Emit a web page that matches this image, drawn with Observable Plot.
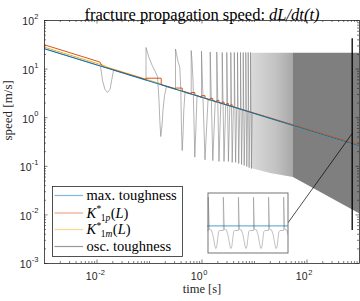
<!DOCTYPE html>
<html><head><meta charset="utf-8">
<script src="https://cdn.jsdelivr.net/npm/d3@7"></script>
<script src="https://cdn.jsdelivr.net/npm/@observablehq/plot@0.6"></script>
<style>
html,body{margin:0;padding:0;background:#fff;}
#wrap{position:relative;width:360px;height:301px;overflow:hidden;background:#fff;}
#wrap svg{position:absolute;overflow:visible;}
</style></head><body><div id="wrap"></div>
<script>
// ---------------- data ----------------
const titleParts = ["fracture propagation speed: ", "dL/dt(t)"];
const xLabel = "time [s]";
const yLabel = "speed [m/s]";
const legendLabels = ["max. toughness", "K^*_{1p}(L)", "K^*_{1m}(L)", "osc. toughness"];
const legendColors = ["#0072BD", "#D95319", "#EDB120", "#7f7f7f"];

const xLabelTicks = [1e-2, 1, 1e2];
const xLabelExp = ["-2", "0", "2"];
const yLabelTicks = [1e-3, 1e-2, 1e-1, 1, 10, 100];
const yLabelExp = ["-3", "-2", "-1", "0", "1", "2"];
const decades = [1e-3, 1e-2, 1e-1, 1, 10, 100];
const mantissas = [2, 3, 4, 5, 6, 7, 8, 9];
const xExtraMinor = [1e-1, 10];

// max. toughness
const blueT = [1e-3, 1e3];
const blueV = [26.2, 0.262];

// K*_1p(L)
const orangeT = [0.001, 0.01131, 0.01273, 0.0858, 0.0858, 0.1671, 0.1671, 0.3128, 0.3128, 0.4196, 0.4196,
  0.6225, 0.6225, 0.7292, 0.7292, 0.978, 0.978, 1.140, 1.140, 1.433, 1.433, 1.606, 1.606, 1.913, 1.913,
  2.106, 2.106, 2.426, 2.426, 2.625, 2.625, 2.968, 2.968, 3.185, 3.185, 3.538, 3.538, 3.761, 3.761, 1000];
const orangeV = [31.6, 14.0, 11.3, 6.1, 6.5, 6.5, 4.82, 3.95, 4.07, 4.07, 3.55, 3.12, 3.30, 3.30, 2.95,
  2.66, 2.84, 2.84, 2.53, 2.33, 2.50, 2.50, 2.26, 2.12, 2.27, 2.27, 2.06, 1.96, 2.10, 2.10, 1.92,
  1.83, 1.96, 1.96, 1.80, 1.73, 1.85, 1.85, 1.71, 0.275];

// K*_1m(L)
const yellowT = [0.001, 0.01389, 0.01585, 0.1621, 0.19, 1000];
const yellowV = [28.2, 11.73, 10.9, 5.0, 4.55, 0.262];

// osc. toughness: first (resolved) cycles, vertex by vertex
const greyT0 = [0.001, 0.01166, 0.01273, 0.01420, 0.01585, 0.01768, 0.01931, 0.02062,
  0.0858, 0.0858, 0.0970, 0.1125, 0.1301, 0.1421, 0.1517, 0.1571, 0.1641, 0.1730, 0.1807, 0.1931, 0.2108,
  0.3128, 0.3128, 0.3268, 0.3459, 0.3777, 0.3947, 0.4070, 0.4196, 0.4345, 0.4499, 0.4745,
  0.6225, 0.6225, 0.6447, 0.6739, 0.7292, 0.7620, 0.8032];
const greyV0 = [26.2, 11.5, 5.83, 3.80, 3.30, 3.80, 6.41, 9.53,
  5.92, 27.8, 17.6, 11.9, 8.63, 7.04, 2.26, 0.876, 0.41, 0.691, 1.406, 2.86, 4.39,
  3.84, 25.9, 20.6, 15.0, 10.8, 3.63, 0.545, 0.211, 0.430, 1.406, 3.30,
  3.05, 24.1, 15.0, 5.83, 0.154, 0.545, 2.81];
// osc. toughness: following cycles (spike, dip, recovery)
const spikeT = [0.978, 1.433, 1.913, 2.426, 2.968, 3.538, 4.123, 4.746, 5.412, 6.093, 6.829, 7.586, 8.390];
const baseV  = [2.63, 2.31, 2.10, 1.94, 1.81, 1.71, 1.63, 1.55, 1.48, 1.43, 1.37, 1.33, 1.28, 1.25];
const peakV  = [23.4, 22.5, 22.5, 22, 22, 22, 22, 22, 22, 22, 22, 22, 22];
const dipT   = [1.140, 1.606, 2.106, 2.625, 3.185, 3.761, 4.366, 5.002, 5.677, 6.367, 7.136, 7.889, 8.726];
const dipV   = [0.136, 0.131, 0.126, 0.126, 0.126, 0.120, 0.120, 0.114, 0.109, 0.104, 0.099, 0.094, 0.090];
const recT   = [1.301, 1.784, 2.280, 2.829, 3.387, 3.966, 4.581, 5.240, 5.910, 6.635, 7.389, 8.170, 9.036];
// unresolved fast oscillation: envelope bands
const lightT = [8.77, 20.2, 55.3];
const lightLo = [0.090, 0.071, 0.059];
const lightHi = [21.2, 21.2, 21.2];
const darkT = [55.3, 1000];
const darkLo = [0.059, 0.0105];
const darkHi = [21.2, 21.2];

// zoom marker + connector
const markT = [726], markLo = [0.0048], markHi = [42];
const linkFrom = {t: 726, v: 0.473}, linkTo = {t: 43.1, v: 0.0068};

// inset (zoomed window, time in oscillation periods)
const insetDomainT = [0, 5.37];
const insetDomainV = [0.0048, 42];
const insetSpikes = [0.05, 1.05, 2.05, 3.05, 4.05, 5.05];
const cyclePhase = [0, 0, 0.07, 0.2, 0.3, 0.38, 0.45, 0.5, 0.56, 0.62, 0.68, 0.75];
const cycleV = [0.147, 20.9, 0.171, 0.16, 0.08, 0.03, 0.013, 0.0101, 0.013, 0.04, 0.12, 0.147];
const insetBlueV = 0.29;

// ---------------- build ----------------
const W = 360, H = 301;
const M = {top: 20, right: 1, bottom: 38, left: 44};
const fh = H - M.top - M.bottom, fw = W - M.left - M.right;
const axisColor = "#262626";
const serifName = "Liberation Serif", sansName = "Liberation Sans";
const serif = "'Liberation Serif','Times New Roman',serif";
const sans = "'Liberation Sans',Arial,sans-serif";
const rows = (ts, vs) => ts.map((t, i) => ({t, v: vs[i]}));

const ctx = document.createElement("canvas").getContext("2d");
function tw(s, size, family, italic) {
  ctx.font = (italic ? "italic " : "") + size + "px '" + family + "'";
  return ctx.measureText(s).width;
}

const grey = rows(greyT0, greyV0);
spikeT.forEach((t, i) => {
  grey.push({t, v: baseV[i]}, {t, v: peakV[i]}, {t: dipT[i], v: dipV[i]}, {t: recT[i], v: baseV[i + 1]});
});
const band = (ts, lo, hi) => ts.map((t, i) => ({t, lo: lo[i], hi: hi[i]}));

const minor = decades.flatMap(d => mantissas.map(m => m * d));
const xMinor = minor.concat(xExtraMinor);
const yMinor = minor.filter(v => v < 100);
const tickMaj = 3.5, tickMin = 2;
const tk = {stroke: axisColor, strokeWidth: 0.6};

const labelSize = 10.5, expSize = 7.5;
const titleSize = 16.5;
const tW0 = tw(titleParts[0], titleSize, serifName, false);
const tW1 = tw(titleParts[1], titleSize, serifName, true);
const tStart = -(tW0 + tW1) / 2;

const yTickBase = yLabelTicks.map((v, i) => Plot.text([v], {
  y: d => d, frameAnchor: "left", dx: -6.3 - tw(yLabelExp[i], expSize, sansName, false), dy: 1.5,
  textAnchor: "end", text: () => "10", fontFamily: sans, fontSize: labelSize, fill: axisColor}));

const chart = Plot.plot({
  width: W, height: H,
  marginTop: M.top, marginRight: M.right, marginBottom: M.bottom, marginLeft: M.left,
  x: {type: "log", domain: [1e-3, 1e3], axis: null},
  y: {type: "log", domain: [1e-3, 1e2], axis: null},
  style: {background: "#fff"},
  marks: [
    Plot.areaY(band(lightT, lightLo, lightHi), {x: "t", y1: "lo", y2: "hi", fill: "url(#lightband)"}),
    Plot.areaY(band(darkT, darkLo, darkHi), {x: "t", y1: "lo", y2: "hi", fill: "#7f7f7f"}),
    Plot.line(grey, {x: "t", y: "v", stroke: "#7f7f7f", strokeWidth: 0.6, clip: true}),
    Plot.line(rows(yellowT, yellowV), {x: "t", y: "v", stroke: legendColors[2], strokeWidth: 1, clip: true}),
    Plot.line(rows(orangeT, orangeV), {x: "t", y: "v", stroke: legendColors[1], strokeWidth: 1, clip: true}),
    Plot.line(rows(blueT, blueV), {x: "t", y: "v", stroke: legendColors[0], strokeWidth: 1, clip: true}),
    Plot.ruleX(markT, {x: d => d, y1: () => markLo[0], y2: () => markHi[0], stroke: "#000", strokeWidth: 1.3}),
    Plot.link([0], {x1: () => linkFrom.t, y1: () => linkFrom.v, x2: () => linkTo.t, y2: () => linkTo.v, stroke: "#000", strokeWidth: 0.7}),
    // ticks (inward, all four sides)
    Plot.ruleX(xLabelTicks, {x: d => d, insetTop: fh - tickMaj, ...tk}),
    Plot.ruleX(xLabelTicks, {x: d => d, insetBottom: fh - tickMaj, ...tk}),
    Plot.ruleX(xMinor, {x: d => d, insetTop: fh - tickMin, ...tk}),
    Plot.ruleX(xMinor, {x: d => d, insetBottom: fh - tickMin, ...tk}),
    Plot.ruleY(yLabelTicks, {y: d => d, insetRight: fw - tickMaj, ...tk}),
    Plot.ruleY(yLabelTicks, {y: d => d, insetLeft: fw - tickMaj, ...tk}),
    Plot.ruleY(yMinor, {y: d => d, insetRight: fw - tickMin, ...tk}),
    Plot.ruleY(yMinor, {y: d => d, insetLeft: fw - tickMin, ...tk}),
    Plot.frame({stroke: axisColor, strokeWidth: 0.8}),
    // tick labels: base "10" and exponent as separate texts
    Plot.text(xLabelTicks, {x: d => d, frameAnchor: "bottom", dy: 16.8, dx: 0.5, textAnchor: "end",
      text: () => "10", fontFamily: sans, fontSize: labelSize, fill: axisColor}),
    Plot.text(xLabelTicks, {x: d => d, frameAnchor: "bottom", dy: 11.5, dx: 1.2, textAnchor: "start",
      text: (d, i) => xLabelExp[i], fontFamily: sans, fontSize: expSize, fill: axisColor}),
    ...yTickBase,
    Plot.text(yLabelTicks, {y: d => d, frameAnchor: "left", dx: -6, dy: -4, textAnchor: "end",
      text: (d, i) => yLabelExp[i], fontFamily: sans, fontSize: expSize, fill: axisColor}),
    // axis labels and title
    Plot.text([xLabel], {frameAnchor: "bottom", dy: 29.5, text: d => d, fontFamily: serif, fontSize: 12.5, fill: axisColor}),
    Plot.text([yLabel], {frameAnchor: "left", dx: -36.5, dy: -1.5, rotate: -90, text: d => d, fontFamily: serif, fontSize: 13, fill: axisColor}),
    Plot.text([titleParts[0]], {frameAnchor: "top", dy: -12, dx: tStart, textAnchor: "start", text: d => d, fontFamily: serif, fontSize: titleSize, fill: "#000"}),
    Plot.text([titleParts[1]], {frameAnchor: "top", dy: -12, dx: tStart + tW0, textAnchor: "start", text: d => d, fontFamily: serif, fontStyle: "italic", fontSize: titleSize, fill: "#000"})
  ]
});
const wrap = document.getElementById("wrap");
chart.style.left = "0px"; chart.style.top = "0px";
wrap.appendChild(chart);

// gradient for the partly resolved band
const defs = d3.select(chart).insert("defs", ":first-child");
const grad = defs.append("linearGradient").attr("id", "lightband").attr("x1", 0).attr("x2", 1).attr("y1", 0).attr("y2", 0);
grad.append("stop").attr("offset", 0).attr("stop-color", "#dadada");
grad.append("stop").attr("offset", 0.6).attr("stop-color", "#c2c2c2");
grad.append("stop").attr("offset", 1).attr("stop-color", "#a8a8a8");

// inset
const insetLine = [{t: insetDomainT[0], v: cycleV[cycleV.length - 1]}];
insetSpikes.forEach(s => cyclePhase.forEach((p, j) => insetLine.push({t: s + p, v: cycleV[j]})));
const inset = Plot.plot({
  width: 81, height: 61, margin: 0,
  x: {domain: insetDomainT, axis: null},
  y: {type: "log", domain: insetDomainV, axis: null},
  style: {background: "#fff"},
  marks: [
    Plot.line(insetLine, {x: "t", y: "v", stroke: "#7f7f7f", strokeWidth: 0.6, strokeOpacity: 0.8, clip: true}),
    Plot.ruleY([insetBlueV], {stroke: legendColors[0], strokeOpacity: 0.55, strokeWidth: 1.2}),
    Plot.frame({stroke: "#666", strokeWidth: 0.9, inset: 0.5})
  ]
});
inset.style.left = "206.5px"; inset.style.top = "191.5px";
wrap.appendChild(inset);

// legend
const leg = d3.select(wrap).append("svg").attr("width", 131).attr("height", 71)
  .style("left", "51.5px").style("top", "185.5px");
leg.append("rect").attr("x", 0.5).attr("y", 0.5).attr("width", 130).attr("height", 70)
  .attr("fill", "#fff").attr("stroke", axisColor).attr("stroke-width", 0.8);
const rowY = [9.5, 27, 43.5, 60.5];
const legSize = 14.5, scriptSize = 9.5;
function put(x, y, s, size, italic) {
  leg.append("text").attr("x", x).attr("y", y).attr("font-family", serif).attr("font-size", size)
    .attr("font-style", italic ? "italic" : "normal").attr("fill", "#000").text(s);
  return tw(s, size, serifName, italic);
}
legendLabels.forEach((lab, i) => {
  leg.append("line").attr("x1", 2.5).attr("x2", 31).attr("y1", rowY[i]).attr("y2", rowY[i])
    .attr("stroke", legendColors[i]).attr("stroke-opacity", i === 3 ? 0.8 : 0.5).attr("stroke-width", 1.2);
  const base = rowY[i] + 4.5;
  const m = lab.match(/^K\^\*_\{(\w)(\w+)\}\(L\)$/);
  let x = 34.5;
  if (m) {
    x += put(x, base, "K", legSize, true) + 0.3;
    x += put(x, base - 5.5, "*", scriptSize, false) - 0.5;
    x += put(x, base + 3, m[1], scriptSize, false);
    x += put(x, base + 3, m[2], scriptSize, true) + 0.5;
    x += put(x, base, "(", legSize, false);
    x += put(x, base, "L", legSize, true);
    put(x, base, ")", legSize, false);
  } else {
    put(x, base, lab, legSize, false);
  }
});
</script></body></html>
